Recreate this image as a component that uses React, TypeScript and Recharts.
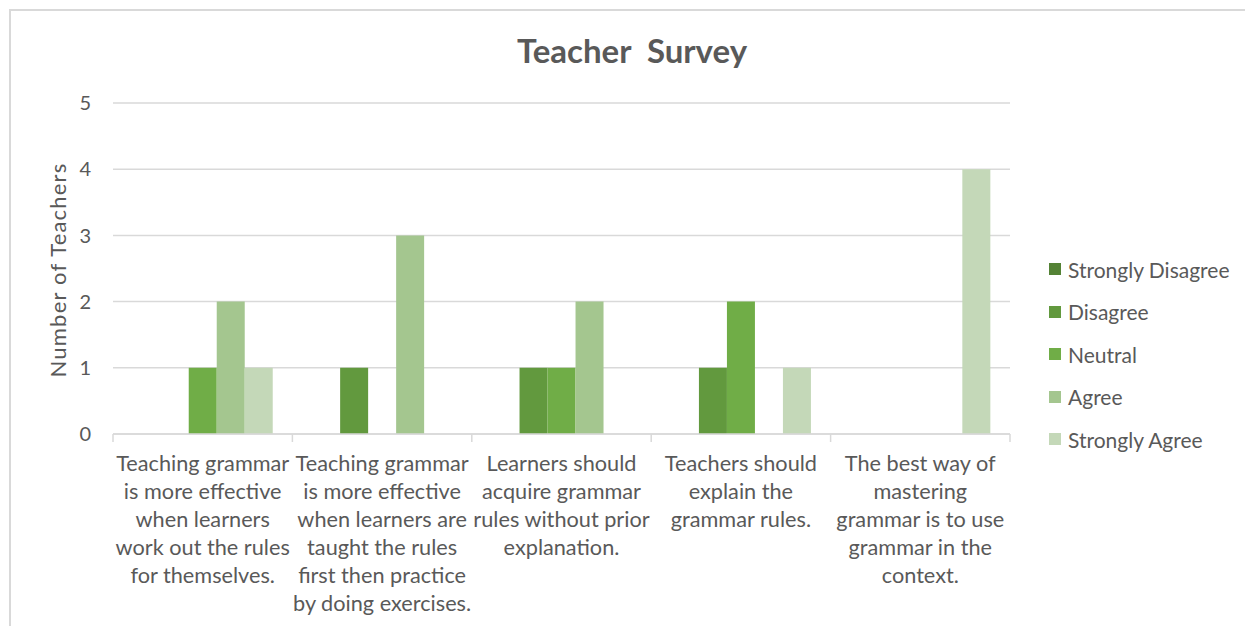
import React from "react";
import { BarChart, Bar, XAxis, YAxis, CartesianGrid, Legend } from "recharts";

const statements = [
  "Teaching grammar is more effective when learners work out the rules for themselves.",
  "Teaching grammar is more effective when learners are taught the rules first then practice by doing exercises.",
  "Learners should acquire grammar rules without prior explanation.",
  "Teachers should explain the grammar rules.",
  "The best way of mastering grammar is to use grammar in the context.",
];

// how the category labels wrap in the original
const statementLines = [
  ["Teaching grammar", "is more effective", "when learners", "work out the rules", "for themselves."],
  ["Teaching grammar", "is more effective", "when learners are", "taught the rules", "first then practice", "by doing exercises."],
  ["Learners should", "acquire grammar", "rules without prior", "explanation."],
  ["Teachers should", "explain the", "grammar rules."],
  ["The best way of", "mastering", "grammar is to use", "grammar in the", "context."],
];

const responses = ["Strongly Disagree", "Disagree", "Neutral", "Agree", "Strongly Agree"];
const responseColors = ["#548235", "#62993E", "#70AD47", "#A4C68F", "#C4D8B8"];

const stronglyDisagree = [0, 0, 0, 0, 0];
const disagree = [0, 1, 1, 1, 0];
const neutral = [1, 0, 1, 2, 0];
const agree = [2, 3, 2, 0, 0];
const stronglyAgree = [1, 0, 0, 1, 4];

const yTicks = [0, 1, 2, 3, 4, 5];

const series = [stronglyDisagree, disagree, neutral, agree, stronglyAgree];

const data = statements.map((s, i) => {
  const row: Record<string, string | number> = { statement: s };
  responses.forEach((r, k) => {
    row[r] = series[k][i];
  });
  return row;
});

const CHART_W = 1245;
const CHART_H = 626;
const margin = { top: 103, right: 235, left: 53, bottom: 0 };
const Y_AXIS_W = 60;
const X_AXIS_H = 192;
const band = (CHART_W - margin.left - Y_AXIS_W - margin.right) / statements.length;

const textColor = "#595959";
const gridColor = "#d9d9d9";

function StatementTick(props: any) {
  const { x, y, payload } = props;
  const idx = statements.indexOf(payload.value);
  const lines = statementLines[idx] || [payload.value];
  return (
    <g>
      <line x1={x - band / 2} x2={x - band / 2} y1={y - 8} y2={y} stroke={gridColor} strokeWidth={1.5} />
      {idx === statements.length - 1 && (
        <line x1={x + band / 2} x2={x + band / 2} y1={y - 8} y2={y} stroke={gridColor} strokeWidth={1.5} />
      )}
      <text x={x} y={y} textAnchor="middle" fill={textColor} fontSize={21.7}>
        {lines.map((l, i) => (
          <tspan key={i} x={x} dy={i === 0 ? 29 : 28}>
            {l}
          </tspan>
        ))}
      </text>
    </g>
  );
}

function LegendList(props: any) {
  const items = [...(props.payload || [])].sort(
    (a: any, b: any) => responses.indexOf(a.value) - responses.indexOf(b.value)
  );
  return (
    <div>
      {items.map((p: any) => (
        <div
          key={p.value}
          style={{ display: "flex", alignItems: "center", height: 42.5, color: textColor, fontSize: 21 }}
        >
          <span style={{ width: 12, height: 12, background: p.color, marginRight: 7, display: "inline-block" }} />
          <span>{p.value}</span>
        </div>
      ))}
    </div>
  );
}

export default function App() {
  return (
    <div style={{ position: "fixed", inset: 0, overflow: "hidden", background: "#fff", fontFamily: "Lato" }}>
      <div
        style={{
          position: "absolute",
          left: 9,
          top: 9,
          width: 1300,
          height: 700,
          border: `2px solid ${gridColor}`,
        }}
      />
      <div
        style={{
          position: "absolute",
          left: 0,
          width: 1264,
          top: 34,
          textAlign: "center",
          fontSize: 33,
          lineHeight: 1,
          fontWeight: 700,
          color: textColor,
          whiteSpace: "pre",
        }}
      >
        {"Teacher  Survey"}
      </div>
      <div
        style={{
          position: "absolute",
          left: 58,
          top: 270,
          transform: "translate(-50%, -50%) rotate(-90deg)",
          whiteSpace: "nowrap",
          fontSize: 22,
          letterSpacing: 1.2,
          color: textColor,
          lineHeight: 1,
        }}
      >
        Number of Teachers
      </div>
      <div style={{ position: "absolute", left: 0, top: 0 }}>
        <BarChart
          width={CHART_W}
          height={CHART_H}
          data={data}
          margin={margin}
          barCategoryGap="11%"
          barGap={0}
          style={{ fontFamily: "Lato" }}
        >
          <CartesianGrid vertical={false} stroke={gridColor} strokeWidth={1.5} />
          <XAxis
            dataKey="statement"
            height={X_AXIS_H}
            interval={0}
            tickLine={false}
            tickSize={8}
            tickMargin={0}
            axisLine={{ stroke: gridColor, strokeWidth: 1.5 }}
            tick={<StatementTick />}
          />
          <YAxis
            width={Y_AXIS_W}
            domain={[0, 5]}
            ticks={yTicks}
            axisLine={false}
            tickLine={false}
            tickMargin={16}
            tick={{ fill: textColor, fontSize: 20 }}
          />
          <Legend
            layout="vertical"
            align="center"
            verticalAlign="middle"
            content={<LegendList />}
            wrapperStyle={{ left: 1049, top: 247.75, width: 200 }}
          />
          {responses.map((r, k) => (
            <Bar key={r} dataKey={r} fill={responseColors[k]} isAnimationActive={false} />
          ))}
        </BarChart>
      </div>
    </div>
  );
}
